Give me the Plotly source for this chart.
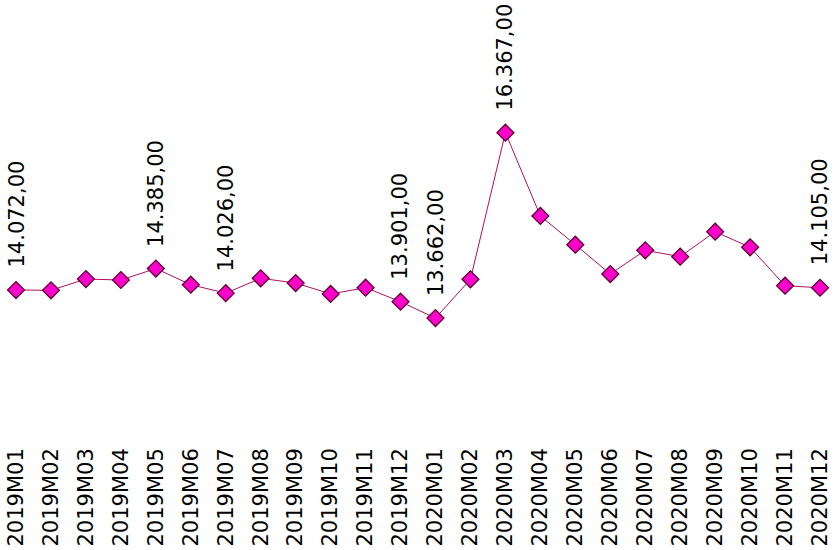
import plotly.graph_objects as go

months = ["2019M01","2019M02","2019M03","2019M04","2019M05","2019M06","2019M07","2019M08",
          "2019M09","2019M10","2019M11","2019M12","2020M01","2020M02","2020M03","2020M04",
          "2020M05","2020M06","2020M07","2020M08","2020M09","2020M10","2020M11","2020M12"]
values = [14072, 14068, 14232, 14218, 14385, 14149, 14026, 14243,
          14174, 14014, 14106, 13901, 13662, 14228, 16367, 15152,
          14733, 14305, 14651, 14558, 14923, 14695, 14135, 14105]
labeled = ["2019M01","2019M05","2019M07","2019M12","2020M01","2020M03","2020M12"]

def fmt(v):
    s = f"{v:,.2f}"
    return s.replace(",", "X").replace(".", ",").replace("X", ".")

fig = go.Figure()
fig.add_trace(go.Scatter(
    x=months, y=values, mode="lines+markers",
    line=dict(color="#B0105E", width=1),
    marker=dict(symbol="diamond", size=13, color="#FF00CC",
                line=dict(color="#5A0030", width=1.3)),
    hoverinfo="x+y", showlegend=False,
))

for m, v in zip(months, values):
    if m in labeled:
        fig.add_annotation(x=m, y=v, text=fmt(v), textangle=-90, showarrow=False,
                           xanchor="center", yanchor="bottom", yshift=20,
                           font=dict(family="DejaVu Sans", size=21, color="#000000"))

fig.update_layout(
    width=834, height=550,
    margin=dict(l=0, r=0, t=0, b=107, autoexpand=False),
    paper_bgcolor="white", plot_bgcolor="white",
    xaxis=dict(type="category", range=[-0.458, 23.4], showgrid=False, zeroline=False,
               showline=False, ticks="", tickangle=-90, automargin=False,
               tickfont=dict(family="DejaVu Sans", size=21, color="#000000")),
    yaxis=dict(range=[11840, 18303], visible=False, showgrid=False, zeroline=False),
)

fig.write_html("out.html", config={"displayModeBar": False},
               post_script="document.body.style.margin='0px';document.body.style.padding='0px';")
